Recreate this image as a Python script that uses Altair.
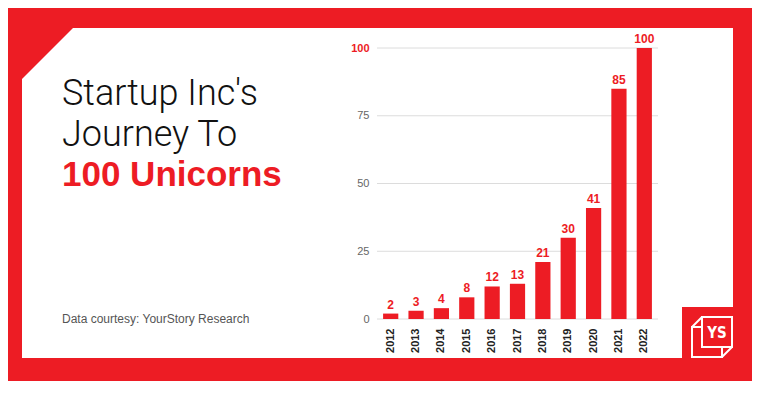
import altair as alt
import pandas as pd

# ---- data ----
years = ["2012", "2013", "2014", "2015", "2016", "2017", "2018", "2019", "2020", "2021", "2022"]
unicorns = [2, 3, 4, 8, 12, 13, 21, 30, 41, 85, 100]
y_ticks = [0, 25, 50, 75, 100]

title_lines = ["Startup Inc's", "Journey To"]
title_highlight = "100 Unicorns"
source_note = "Data courtesy: YourStory Research"
logo_text = "YS"

RED = "#ED1C24"

df = pd.DataFrame({"year": years, "count": unicorns})
grid_df = pd.DataFrame({"count": y_ticks})
one = pd.DataFrame({"k": [1]})

# plot area origin in page pixels
OX, OY = 377, 48


def px(x):
    return x - OX


def py(y):
    return y - OY


def deco_rect(x1, y1, x2, y2, **kw):
    return alt.Chart(one).mark_rect(**kw).encode(
        x=alt.value(px(x1)), x2=alt.value(px(x2)),
        y=alt.value(py(y1)), y2=alt.value(py(y2)),
    )


def deco_line(x1, y1, x2, y2):
    return alt.Chart(one).mark_rule(color="white", strokeWidth=2).encode(
        x=alt.value(px(x1)), x2=alt.value(px(x2)),
        y=alt.value(py(y1)), y2=alt.value(py(y2)),
    )


def deco_text(txt, x, y, **kw):
    return alt.Chart(one).mark_text(align="left", baseline="alphabetic", **kw).encode(
        x=alt.value(px(x)), y=alt.value(py(y)), text=alt.value(txt)
    )


# ---- frame ----
outer = deco_rect(2, 6, 754, 381, fill=RED)
inner = deco_rect(22, 28, 733, 358, fill="white")
corner = alt.Chart(one).mark_point(
    shape="M-1,-1L1,-1L-1,1Z", filled=True, opacity=1, strokeWidth=0, color=RED
).encode(x=alt.value(px(47.5)), y=alt.value(py(53.5)), size=alt.value(53 * 53))
notch = deco_rect(682, 307, 734, 359, fill=RED)

# ---- logo ----
logo_back = deco_rect(692, 327, 722, 357, fillOpacity=0, stroke="white", strokeWidth=2)
logo_d1 = deco_line(692, 327, 702, 317)
logo_d2 = deco_line(722, 357, 732, 347)
logo_front = deco_rect(702, 317, 732, 347, fill=RED, stroke="white", strokeWidth=2)
logo_ys = alt.Chart(one).mark_text(
    align="center", baseline="middle", color="white", font="DejaVu Sans Condensed",
    fontWeight="bold", fontSize=15
).encode(x=alt.value(px(717)), y=alt.value(py(333)), text=alt.value(logo_text))

# ---- texts ----
t1 = deco_text(title_lines[0], 62, 105, font="Roboto", fontWeight=300, fontSize=36, color="#111")
t2 = deco_text(title_lines[1], 62, 146, font="Roboto", fontWeight=300, fontSize=36, color="#111")
t3 = deco_text(title_highlight, 62, 186, font="Liberation Sans", fontWeight="bold", fontSize=35, color=RED)
t4 = deco_text(source_note, 62, 323, font="Liberation Sans", fontSize=12, color="#555")

# ---- chart ----
xenc = alt.X(
    "year:N", sort=years,
    scale=alt.Scale(paddingInner=0.4, paddingOuter=0.24),
    axis=alt.Axis(
        title=None, labelAngle=270, labelFont="Liberation Sans", labelFontSize=11,
        labelFontWeight="bold", labelColor="#222", ticks=False, domain=False,
        labelPadding=9, grid=False, zindex=1,
    ),
)
yscale = alt.Scale(domain=[0, 100], nice=False)
yaxis = alt.Axis(
    values=y_ticks, title=None, ticks=False, domain=False, grid=False,
    labelPadding=8, labelFont="Liberation Sans", labelFontSize=11,
    labelColor={"expr": "datum.value == 100 ? '#ED1C24' : '#666'"},
    labelFontWeight={"expr": "datum.value == 100 ? 'bold' : 'normal'"},
    zindex=1,
)

grid = alt.Chart(grid_df).mark_rule(color="#dcdcdc", strokeWidth=1).encode(
    y=alt.Y("count:Q", scale=yscale, axis=yaxis)
)

bars = alt.Chart(df).mark_bar(color=RED).encode(
    x=xenc,
    y=alt.Y("count:Q", scale=yscale, axis=yaxis),
)

bar_labels = alt.Chart(df).mark_text(
    color=RED, fontWeight="bold", fontSize=12, font="Liberation Sans",
    baseline="bottom", dy=-2
).encode(
    x=xenc,
    y=alt.Y("count:Q", scale=yscale, axis=yaxis),
    text="count:Q",
)

chart = alt.layer(
    outer, inner, corner, notch,
    logo_back, logo_d1, logo_d2, logo_front, logo_ys,
    t1, t2, t3, t4,
    grid, bars, bar_labels,
).properties(
    width=281, height=271,
    padding={"left": 369, "top": 40, "right": 94, "bottom": 62},
    autosize=alt.AutoSizeParams(type="none"),
).configure_view(stroke=None).configure(background="white")

chart.save("out.html", embed_options={"renderer": "svg", "actions": False})
